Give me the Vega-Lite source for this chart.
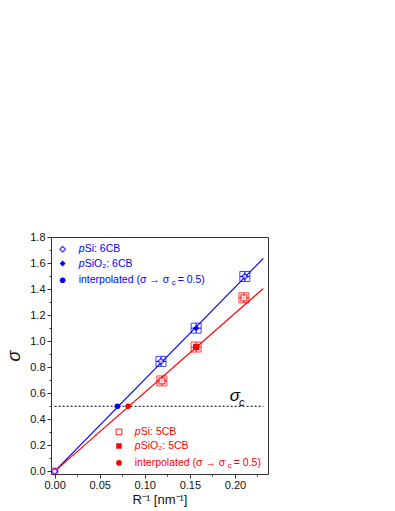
{
  "$schema": "https://vega.github.io/schema/vega-lite/v6.json",
  "width": 217,
  "height": 237,
  "autosize": "none",
  "padding": {"left": 51, "top": 237, "right": 127, "bottom": 37},
  "background": "white",
  "config": {
    "view": {"stroke": "#333333", "strokeWidth": 1},
    "font": "Liberation Sans",
    "axis": {"grid": false, "domain": false, "tickColor": "#333333", "labelColor": "#111111", "titleColor": "#111111", "labelFont": "Liberation Sans", "titleFont": "Liberation Sans", "titleFontWeight": "normal"}
  },
  "resolve": {"axis": {"x": "independent", "y": "independent"}},
  "layer": [
    {
      "data": {"values": [{"x": 0, "y": 0.5}, {"x": 0.2315, "y": 0.5}]},
      "mark": {"type": "line", "color": "black", "strokeWidth": 1, "strokeDash": [2, 2]},
      "encoding": {
        "x": {"field": "x", "type": "quantitative", "scale": {"domain": [-0.004, 0.2367], "nice": false, "zero": false}, "axis": {"orient": "bottom", "values": [0.025, 0.075, 0.125, 0.175, 0.225], "labels": false, "tickSize": 2, "title": null}},
        "y": {"field": "y", "type": "quantitative", "scale": {"domain": [-0.02, 1.8], "nice": false, "zero": false}, "axis": {"orient": "left", "values": [0.1, 0.3, 0.5, 0.7, 0.9, 1.1, 1.3, 1.5, 1.7], "labels": false, "tickSize": 2, "title": null}}
      }
    },
    {
      "data": {"values": [
        {"series": "6CB", "x": 0, "y": 0}, {"series": "6CB", "x": 0.2315, "y": 1.636},
        {"series": "5CB", "x": 0, "y": 0}, {"series": "5CB", "x": 0.2315, "y": 1.405}
      ]},
      "mark": {"type": "line", "strokeWidth": 1.2},
      "encoding": {
        "x": {"field": "x", "type": "quantitative", "scale": {"domain": [-0.004, 0.2367], "nice": false, "zero": false},
          "axis": {"orient": "bottom", "values": [0, 0.05, 0.1, 0.15, 0.2], "format": ".2f", "tickSize": 4, "labelFontSize": 11, "labelPadding": 1, "title": "R⁻¹  [nm⁻¹]", "titleFontSize": 13, "titlePadding": 3}},
        "y": {"field": "y", "type": "quantitative", "scale": {"domain": [-0.02, 1.8], "nice": false, "zero": false},
          "axis": {"orient": "left", "values": [0, 0.2, 0.4, 0.6, 0.8, 1.0, 1.2, 1.4, 1.6, 1.8], "format": ".1f", "tickSize": 4, "labelFontSize": 11, "labelPadding": 2, "title": "σ", "titleFontSize": 18, "titleFontStyle": "italic", "titlePadding": 6}},
        "color": {"field": "series", "type": "nominal", "scale": {"domain": ["6CB", "5CB"], "range": ["#0000ff", "#ff0000"]}, "legend": null},
        "detail": {"field": "series"}
      }
    },
    {
      "data": {"name": "meas", "values": [
        {"series": "6CB", "sample": "pSi", "x": 0.118, "y": 0.845, "xlo": 0.1125, "xhi": 0.1235, "ylo": 0.807, "yhi": 0.883},
        {"series": "6CB", "sample": "pSiO2", "x": 0.157, "y": 1.1, "xlo": 0.1515, "xhi": 0.1625, "ylo": 1.062, "yhi": 1.138},
        {"series": "6CB", "sample": "pSi", "x": 0.211, "y": 1.497, "xlo": 0.2055, "xhi": 0.2165, "ylo": 1.459, "yhi": 1.535},
        {"series": "5CB", "sample": "pSi", "x": 0.119, "y": 0.695, "xlo": 0.1135, "xhi": 0.1245, "ylo": 0.657, "yhi": 0.733},
        {"series": "5CB", "sample": "pSiO2", "x": 0.157, "y": 0.955, "xlo": 0.1515, "xhi": 0.1625, "ylo": 0.917, "yhi": 0.993},
        {"series": "5CB", "sample": "pSi", "x": 0.21, "y": 1.333, "xlo": 0.2045, "xhi": 0.2155, "ylo": 1.295, "yhi": 1.371}
      ]},
      "mark": {"type": "point", "shape": "square", "size": 100, "filled": false, "strokeWidth": 1, "opacity": 0.75},
      "encoding": {
        "x": {"field": "x", "type": "quantitative", "axis": null},
        "y": {"field": "y", "type": "quantitative", "axis": null},
        "color": {"field": "series", "type": "nominal", "legend": null}
      }
    },
    {
      "data": {"name": "meas"},
      "mark": {"type": "rule", "strokeWidth": 1},
      "encoding": {
        "x": {"field": "xlo", "type": "quantitative", "axis": null},
        "x2": {"field": "xhi"},
        "y": {"field": "y", "type": "quantitative", "axis": null},
        "color": {"field": "series", "type": "nominal", "legend": null}
      }
    },
    {
      "data": {"name": "meas"},
      "mark": {"type": "rule", "strokeWidth": 1},
      "encoding": {
        "x": {"field": "x", "type": "quantitative", "axis": null},
        "y": {"field": "ylo", "type": "quantitative", "axis": null},
        "y2": {"field": "yhi"},
        "color": {"field": "series", "type": "nominal", "legend": null}
      }
    },
    {
      "data": {"name": "pts", "values": [
        {"series": "5CB", "sample": "pSi", "x": 0, "y": 0},
        {"series": "6CB", "sample": "pSi", "x": 0, "y": 0},
        {"series": "6CB", "sample": "pSi", "x": 0.118, "y": 0.845},
        {"series": "6CB", "sample": "pSiO2", "x": 0.157, "y": 1.1},
        {"series": "6CB", "sample": "pSi", "x": 0.211, "y": 1.497},
        {"series": "5CB", "sample": "pSi", "x": 0.119, "y": 0.695},
        {"series": "5CB", "sample": "pSiO2", "x": 0.157, "y": 0.955},
        {"series": "5CB", "sample": "pSi", "x": 0.21, "y": 1.333}
      ]},
      "transform": [{"filter": "datum.sample === 'pSi'"}],
      "mark": {"type": "point", "filled": true, "fill": "white", "strokeWidth": 1.3, "size": 36},
      "encoding": {
        "x": {"field": "x", "type": "quantitative", "axis": null},
        "y": {"field": "y", "type": "quantitative", "axis": null},
        "stroke": {"field": "series", "type": "nominal", "scale": {"domain": ["6CB", "5CB"], "range": ["#0000ff", "#ff0000"]}, "legend": null},
        "shape": {"field": "series", "type": "nominal", "scale": {"domain": ["6CB", "5CB"], "range": ["diamond", "square"]}, "legend": null}
      }
    },
    {
      "data": {"name": "pts"},
      "transform": [{"filter": "datum.sample === 'pSiO2'"}],
      "mark": {"type": "point", "filled": true, "size": 40, "opacity": 1},
      "encoding": {
        "x": {"field": "x", "type": "quantitative", "axis": null},
        "y": {"field": "y", "type": "quantitative", "axis": null},
        "color": {"field": "series", "type": "nominal", "legend": null},
        "shape": {"field": "series", "type": "nominal", "legend": null}
      }
    },
    {
      "data": {"values": [
        {"series": "6CB", "x": 0.0697, "y": 0.5},
        {"series": "5CB", "x": 0.0815, "y": 0.5}
      ]},
      "mark": {"type": "point", "shape": "circle", "filled": true, "size": 32, "opacity": 1},
      "encoding": {
        "x": {"field": "x", "type": "quantitative", "axis": null},
        "y": {"field": "y", "type": "quantitative", "axis": null},
        "color": {"field": "series", "type": "nominal", "legend": null}
      }
    },
    {
      "data": {"values": [{"s": "σ"}]},
      "mark": {"type": "text", "align": "left", "baseline": "alphabetic", "fontSize": 17, "fontStyle": "italic", "color": "black"},
      "encoding": {"x": {"datum": 0.1944, "type": "quantitative", "axis": null}, "y": {"datum": 0.54, "type": "quantitative", "axis": null}, "text": {"field": "s"}}
    },
    {
      "data": {"values": [{"s": "c"}]},
      "mark": {"type": "text", "align": "left", "baseline": "alphabetic", "fontSize": 11, "fontStyle": "italic", "color": "black"},
      "encoding": {"x": {"datum": 0.2045, "type": "quantitative", "axis": null}, "y": {"datum": 0.505, "type": "quantitative", "axis": null}, "text": {"field": "s"}}
    },
    {
      "data": {"values": [{"s": "pSi"}]},
      "mark": {"type": "point", "shape": "diamond", "filled": true, "fill": "white", "stroke": "#0000ff", "strokeWidth": 1.3, "size": 32},
      "encoding": {"x": {"datum": 0.0089, "type": "quantitative", "axis": null}, "y": {"datum": 1.706, "type": "quantitative", "axis": null}}
    },
    {
      "data": {"values": [{"s": "pSiO2"}]},
      "mark": {"type": "point", "shape": "diamond", "filled": true, "color": "#0000ff", "opacity": 1, "size": 36},
      "encoding": {"x": {"datum": 0.0089, "type": "quantitative", "axis": null}, "y": {"datum": 1.596, "type": "quantitative", "axis": null}}
    },
    {
      "data": {"values": [{"s": "interp"}]},
      "mark": {"type": "point", "shape": "circle", "filled": true, "color": "#0000ff", "opacity": 1, "size": 32},
      "encoding": {"x": {"datum": 0.0089, "type": "quantitative", "axis": null}, "y": {"datum": 1.468, "type": "quantitative", "axis": null}}
    },
    {
      "data": {"values": [{"t": "p"}]},
      "mark": {"type": "text", "align": "left", "baseline": "middle", "fontSize": 10.5, "fontStyle": "italic", "color": "#0000ff"},
      "encoding": {"x": {"datum": 0.0267, "type": "quantitative", "axis": null}, "y": {"datum": 1.706, "type": "quantitative", "axis": null}, "text": {"field": "t"}}
    },
    {
      "data": {"values": [{"t": "p"}]},
      "mark": {"type": "text", "align": "left", "baseline": "middle", "fontSize": 10.5, "fontStyle": "italic", "color": "#0000ff"},
      "encoding": {"x": {"datum": 0.0267, "type": "quantitative", "axis": null}, "y": {"datum": 1.596, "type": "quantitative", "axis": null}, "text": {"field": "t"}}
    },
    {
      "data": {"values": [{"t": "Si: 6CB"}]},
      "mark": {"type": "text", "align": "left", "baseline": "middle", "fontSize": 10.5, "dx": 6, "color": "#0000ff"},
      "encoding": {"x": {"datum": 0.0267, "type": "quantitative", "axis": null}, "y": {"datum": 1.706, "type": "quantitative", "axis": null}, "text": {"field": "t"}}
    },
    {
      "data": {"values": [{"t": "SiO₂: 6CB"}]},
      "mark": {"type": "text", "align": "left", "baseline": "middle", "fontSize": 10.5, "dx": 6, "color": "#0000ff"},
      "encoding": {"x": {"datum": 0.0267, "type": "quantitative", "axis": null}, "y": {"datum": 1.596, "type": "quantitative", "axis": null}, "text": {"field": "t"}}
    },
    {
      "data": {"values": [{"t": "interpolated (σ → σ"}]},
      "mark": {"type": "text", "align": "left", "baseline": "middle", "fontSize": 10.5, "color": "#0000ff"},
      "encoding": {"x": {"datum": 0.0267, "type": "quantitative", "axis": null}, "y": {"datum": 1.468, "type": "quantitative", "axis": null}, "text": {"field": "t"}}
    },
    {
      "data": {"values": [{"t": "c"}]},
      "mark": {"type": "text", "align": "left", "baseline": "middle", "fontSize": 8, "dx": 93, "dy": 3, "color": "#0000ff"},
      "encoding": {"x": {"datum": 0.0267, "type": "quantitative", "axis": null}, "y": {"datum": 1.468, "type": "quantitative", "axis": null}, "text": {"field": "t"}}
    },
    {
      "data": {"values": [{"t": "= 0.5)"}]},
      "mark": {"type": "text", "align": "left", "baseline": "middle", "fontSize": 10.5, "dx": 99, "color": "#0000ff"},
      "encoding": {"x": {"datum": 0.0267, "type": "quantitative", "axis": null}, "y": {"datum": 1.468, "type": "quantitative", "axis": null}, "text": {"field": "t"}}
    },
    {
      "data": {"values": [{"s": "pSi"}]},
      "mark": {"type": "point", "shape": "square", "filled": true, "fill": "white", "stroke": "#ff0000", "strokeWidth": 1.3, "size": 30},
      "encoding": {"x": {"datum": 0.0714, "type": "quantitative", "axis": null}, "y": {"datum": 0.303, "type": "quantitative", "axis": null}}
    },
    {
      "data": {"values": [{"s": "pSiO2"}]},
      "mark": {"type": "point", "shape": "square", "filled": true, "color": "#ff0000", "opacity": 1, "size": 30},
      "encoding": {"x": {"datum": 0.0714, "type": "quantitative", "axis": null}, "y": {"datum": 0.195, "type": "quantitative", "axis": null}}
    },
    {
      "data": {"values": [{"s": "interp"}]},
      "mark": {"type": "point", "shape": "circle", "filled": true, "color": "#ff0000", "opacity": 1, "size": 32},
      "encoding": {"x": {"datum": 0.0714, "type": "quantitative", "axis": null}, "y": {"datum": 0.065, "type": "quantitative", "axis": null}}
    },
    {
      "data": {"values": [{"t": "p"}]},
      "mark": {"type": "text", "align": "left", "baseline": "middle", "fontSize": 10.5, "fontStyle": "italic", "color": "#ff0000"},
      "encoding": {"x": {"datum": 0.0889, "type": "quantitative", "axis": null}, "y": {"datum": 0.303, "type": "quantitative", "axis": null}, "text": {"field": "t"}}
    },
    {
      "data": {"values": [{"t": "p"}]},
      "mark": {"type": "text", "align": "left", "baseline": "middle", "fontSize": 10.5, "fontStyle": "italic", "color": "#ff0000"},
      "encoding": {"x": {"datum": 0.0889, "type": "quantitative", "axis": null}, "y": {"datum": 0.195, "type": "quantitative", "axis": null}, "text": {"field": "t"}}
    },
    {
      "data": {"values": [{"t": "Si: 5CB"}]},
      "mark": {"type": "text", "align": "left", "baseline": "middle", "fontSize": 10.5, "dx": 6, "color": "#ff0000"},
      "encoding": {"x": {"datum": 0.0889, "type": "quantitative", "axis": null}, "y": {"datum": 0.303, "type": "quantitative", "axis": null}, "text": {"field": "t"}}
    },
    {
      "data": {"values": [{"t": "SiO₂: 5CB"}]},
      "mark": {"type": "text", "align": "left", "baseline": "middle", "fontSize": 10.5, "dx": 6, "color": "#ff0000"},
      "encoding": {"x": {"datum": 0.0889, "type": "quantitative", "axis": null}, "y": {"datum": 0.195, "type": "quantitative", "axis": null}, "text": {"field": "t"}}
    },
    {
      "data": {"values": [{"t": "interpolated (σ → σ"}]},
      "mark": {"type": "text", "align": "left", "baseline": "middle", "fontSize": 10.5, "color": "#ff0000"},
      "encoding": {"x": {"datum": 0.0889, "type": "quantitative", "axis": null}, "y": {"datum": 0.065, "type": "quantitative", "axis": null}, "text": {"field": "t"}}
    },
    {
      "data": {"values": [{"t": "c"}]},
      "mark": {"type": "text", "align": "left", "baseline": "middle", "fontSize": 8, "dx": 93, "dy": 3, "color": "#ff0000"},
      "encoding": {"x": {"datum": 0.0889, "type": "quantitative", "axis": null}, "y": {"datum": 0.065, "type": "quantitative", "axis": null}, "text": {"field": "t"}}
    },
    {
      "data": {"values": [{"t": "= 0.5)"}]},
      "mark": {"type": "text", "align": "left", "baseline": "middle", "fontSize": 10.5, "dx": 99, "color": "#ff0000"},
      "encoding": {"x": {"datum": 0.0889, "type": "quantitative", "axis": null}, "y": {"datum": 0.065, "type": "quantitative", "axis": null}, "text": {"field": "t"}}
    }
  ]
}
